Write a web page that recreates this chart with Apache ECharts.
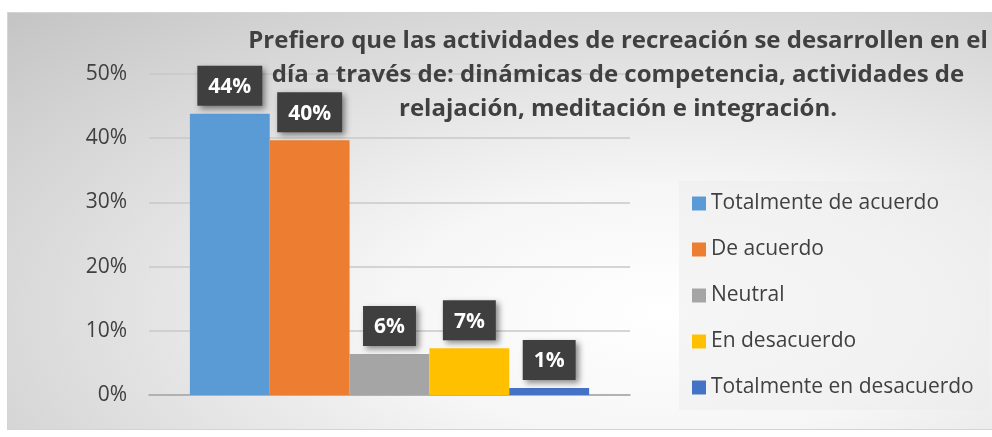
<!DOCTYPE html>
<html>
<head>
<meta charset="utf-8">
<script src="https://cdn.jsdelivr.net/npm/echarts@6/dist/echarts.min.js"></script>
<style>
  html, body { margin: 0; padding: 0; background: #fff; overflow: hidden; }
  #chart {
    position: absolute; left: 7px; top: 12px; width: 1000px; height: 418px;
    border: 1px solid #d4d4d4; box-sizing: border-box;
    background: radial-gradient(ellipse at 66% 72%, #ffffff 0%, #f6f6f6 30%, #c4c4c4 100%);
  }
</style>
</head>
<body>
<div id="chart"></div>
<script>
// answers, in the order Excel draws them
const categories = ['Totalmente de acuerdo', 'De acuerdo', 'Neutral', 'En desacuerdo', 'Totalmente en desacuerdo']
const values = [43.8, 39.7, 6.4, 7.3, 1.1] // percent
const yTicks = [0, 10, 20, 30, 40, 50]
const titleText = 'Prefiero que las actividades de recreación se desarrollen en el\ndía a través de: dinámicas de competencia, actividades de\nrelajación, meditación e integración.'

const palette = ['#5b9bd5', '#ed7d31', '#a5a5a5', '#ffc000', '#4472c4']
const font = '"Open Sans", "Noto Sans", sans-serif'

const chart = echarts.init(document.getElementById('chart'), null, { renderer: 'canvas' })

const series = categories.map((name, i) => ({
  name: name,
  type: 'bar',
  barGap: 0,
  barCategoryGap: '17%',
  itemStyle: { color: palette[i] },
  data: [values[i]],
  label: {
    show: true,
    position: 'top',
    distance: 8,
    formatter: (p) => Math.round(p.value) + '%',
    color: '#fff',
    fontFamily: font,
    fontWeight: 'bold',
    fontSize: 21,
    backgroundColor: '#3f3f3f',
    padding: [11, 11, 8, 11],
    shadowColor: 'rgba(0,0,0,0.45)',
    shadowBlur: 6,
    shadowOffsetX: 3,
    shadowOffsetY: 3
  }
}))

chart.setOption({
  backgroundColor: 'transparent',
  animation: false,
  color: palette,
  title: {
    text: titleText,
    left: 605,
    top: 6,
    textAlign: 'center',
    textStyle: {
      fontFamily: font,
      fontWeight: 'bold',
      fontSize: 24,
      lineHeight: 34,
      color: '#404040'
    }
  },
  grid: { left: 141, top: 61, width: 481, height: 321 },
  legend: {
    orient: 'vertical',
    left: 671,
    top: 168,
    padding: [12, 16, 12, 13],
    itemWidth: 14,
    itemHeight: 14,
    itemGap: 25,
    icon: 'rect',
    backgroundColor: 'rgba(236,236,236,0.45)',
    textStyle: { fontFamily: font, fontSize: 21, color: '#404040', lineHeight: 20 },
    data: categories
  },
  xAxis: {
    type: 'category',
    data: [''],
    axisTick: { show: false },
    axisLabel: { show: false },
    axisLine: { lineStyle: { color: '#a6a6a6', width: 1.5 } }
  },
  yAxis: {
    type: 'value',
    min: yTicks[0],
    max: yTicks[yTicks.length - 1],
    interval: 10,
    axisLine: { show: false },
    axisTick: { show: false },
    axisLabel: {
      formatter: '{value}%',
      fontFamily: font,
      fontSize: 21,
      color: '#404040',
      margin: 22
    },
    splitLine: { lineStyle: { color: '#c8c8c8', width: 1.5 } }
  },
  series: series
})
</script>
</body>
</html>
